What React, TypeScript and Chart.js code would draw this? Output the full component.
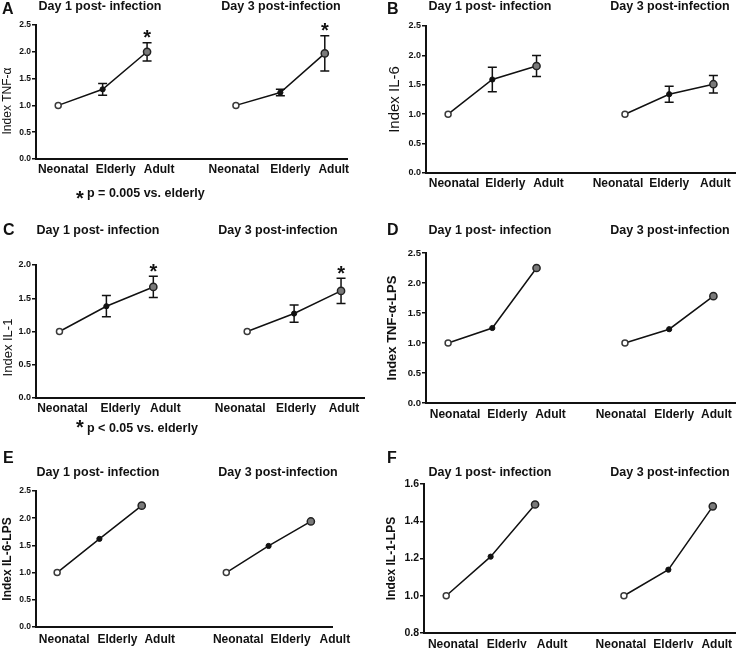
import React, { useEffect, useRef } from 'react';
import { Chart, registerables } from 'chart.js';

Chart.register(...registerables);

const FONT = "'Liberation Sans', Arial, Helvetica, sans-serif";
const INK = '#111111';

// ---- shared categories / labels ----
const CATEGORIES = ['Neonatal', 'Elderly', 'Adult', '', 'Neonatal', 'Elderly', 'Adult'];
const DAY_TITLES = ['Day 1 post- infection', 'Day 3 post-infection'];

// ---- A: TNF-α ----
const tnfDay1 = [1.0, 1.3, 2.0];
const tnfDay1Err = [0, 0.11, 0.17];
const tnfDay3 = [1.0, 1.24, 1.97];
const tnfDay3Err = [0, 0.06, 0.33];
const tnfStars = [false, false, true];

// ---- B: IL-6 ----
const il6Day1 = [1.0, 1.59, 1.82];
const il6Day1Err = [0, 0.21, 0.18];
const il6Day3 = [1.0, 1.34, 1.51];
const il6Day3Err = [0, 0.135, 0.15];
const il6Stars = [false, false, false];

// ---- C: IL-1 ----
const il1Day1 = [1.0, 1.38, 1.67];
const il1Day1Err = [0, 0.16, 0.16];
const il1Day3 = [1.0, 1.27, 1.61];
const il1Day3Err = [0, 0.13, 0.19];
const il1Stars = [false, false, true];

// ---- D: TNF-α-LPS ----
const tnfLpsDay1 = [1.0, 1.25, 2.25];
const tnfLpsDay3 = [1.0, 1.23, 1.78];

// ---- E: IL-6-LPS ----
const il6LpsDay1 = [1.0, 1.62, 2.23];
const il6LpsDay3 = [1.0, 1.49, 1.94];

// ---- F: IL-1-LPS ----
const il1LpsDay1 = [1.0, 1.21, 1.49];
const il1LpsDay3 = [1.0, 1.14, 1.48];

const NO_ERR = [0, 0, 0];
const NO_STARS = [false, false, false];

// group styles (Neonatal, Elderly, Adult)
const PT_BG = ['#ffffff', '#111111', '#7a7a7a'];
const PT_BORDER = ['#3a3a3a', '#111111', '#222222'];
const PT_RADIUS = [3, 2.6, 3.6];
const PT_BW = [1.5, 1, 1.5];

type Box = { left: number; top: number; width: number; height: number };
type Area = { l: number; t: number; r: number; b: number };
type Spec = {
  letter: string;
  letterX: number;
  letterBase: number;
  box: Box;
  area: Area;
  yMin: number;
  yMax: number;
  yStep: number;
  tickSize: number;
  yTitle: string;
  yTitleFont: string;
  yTitleX: number;
  yTitleDy: number;
  titleBase: number;
  titleXs: number[];
  labelShift: number[];
  labelDy: number;
  day1: number[];
  day1Err: number[];
  day3: number[];
  day3Err: number[];
  stars: boolean[];
  foot?: { text: string; x: number; base: number; starX: number; starCenter: number };
};

const PANELS: Spec[] = [
  {
    letter: 'A', letterX: 2, letterBase: 14,
    box: { left: 0, top: 0, width: 370, height: 210 },
    area: { l: 36, t: 25, r: 347, b: 159 },
    yMin: 0, yMax: 2.5, yStep: 0.5, tickSize: 8.5,
    yTitle: 'Index TNF-α', yTitleFont: `12px ${FONT}`, yTitleX: 7.5, yTitleDy: 9,
    titleBase: 9.5, titleXs: [100, 281],
    labelShift: [5, 13, 12, 0, -2, 10, 9], labelDy: 14,
    day1: tnfDay1, day1Err: tnfDay1Err, day3: tnfDay3, day3Err: tnfDay3Err, stars: tnfStars,
    foot: { text: 'p = 0.005 vs. elderly', x: 87, base: 197, starX: 80, starCenter: 193.5 },
  },
  {
    letter: 'B', letterX: 387, letterBase: 14,
    box: { left: 380, top: 0, width: 361, height: 210 },
    area: { l: 426, t: 26, r: 740, b: 173 },
    yMin: 0, yMax: 2.5, yStep: 0.5, tickSize: 9,
    yTitle: 'Index IL-6', yTitleFont: `15px ${FONT}`, yTitleX: 395, yTitleDy: 0,
    titleBase: 9.5, titleXs: [490, 670],
    labelShift: [6, 13, 12, 0, -7, 0, 2], labelDy: 14,
    day1: il6Day1, day1Err: il6Day1Err, day3: il6Day3, day3Err: il6Day3Err, stars: il6Stars,
  },
  {
    letter: 'C', letterX: 3, letterBase: 235,
    box: { left: 0, top: 210, width: 370, height: 230 },
    area: { l: 36, t: 265, r: 366, b: 398 },
    yMin: 0, yMax: 2.0, yStep: 0.5, tickSize: 9,
    yTitle: 'Index IL-1', yTitleFont: `13px ${FONT}`, yTitleX: 8, yTitleDy: 16,
    titleBase: 234, titleXs: [98, 278],
    labelShift: [3, 14, 12, 0, -7, 2, 3], labelDy: 14,
    day1: il1Day1, day1Err: il1Day1Err, day3: il1Day3, day3Err: il1Day3Err, stars: il1Stars,
    foot: { text: 'p < 0.05 vs. elderly', x: 87, base: 432, starX: 80, starCenter: 422.5 },
  },
  {
    letter: 'D', letterX: 387, letterBase: 235,
    box: { left: 380, top: 210, width: 361, height: 230 },
    area: { l: 426, t: 253, r: 736, b: 403 },
    yMin: 0, yMax: 2.5, yStep: 0.5, tickSize: 9.5,
    yTitle: 'Index TNF-α-LPS', yTitleFont: `bold 13px ${FONT}`, yTitleX: 392, yTitleDy: 0,
    titleBase: 234, titleXs: [490, 670],
    labelShift: [7, 15, 14, 0, -4, 5, 3], labelDy: 15,
    day1: tnfLpsDay1, day1Err: NO_ERR, day3: tnfLpsDay3, day3Err: NO_ERR, stars: NO_STARS,
  },
  {
    letter: 'E', letterX: 3, letterBase: 463,
    box: { left: 0, top: 440, width: 370, height: 208 },
    area: { l: 36, t: 491, r: 332, b: 627 },
    yMin: 0, yMax: 2.5, yStep: 0.5, tickSize: 8.5,
    yTitle: 'Index IL-6-LPS', yTitleFont: `bold 12px ${FONT}`, yTitleX: 8, yTitleDy: 0,
    titleBase: 476, titleXs: [98, 278],
    labelShift: [7, 18, 18, 0, 12, 22, 24], labelDy: 16,
    day1: il6LpsDay1, day1Err: NO_ERR, day3: il6LpsDay3, day3Err: NO_ERR, stars: NO_STARS,
  },
  {
    letter: 'F', letterX: 387, letterBase: 463,
    box: { left: 380, top: 440, width: 361, height: 208 },
    area: { l: 424, t: 484, r: 735, b: 633 },
    yMin: 0.8, yMax: 1.6, yStep: 0.2, tickSize: 10.5,
    yTitle: 'Index IL-1-LPS', yTitleFont: `bold 12px ${FONT}`, yTitleX: 392, yTitleDy: 0,
    titleBase: 476, titleXs: [490, 670],
    labelShift: [7, 16, 17, 0, -3, 5, 4], labelDy: 15,
    day1: il1LpsDay1, day1Err: NO_ERR, day3: il1LpsDay3, day3Err: NO_ERR, stars: NO_STARS,
  },
];

const XH = 4;

function groupOf(i: number) {
  return i < 3 ? i : Math.max(0, i - 4);
}

function makeDataset(vals: number[], errs: number[], stars: boolean[], start: number) {
  const inRange = (i: number) => i >= start && i < start + 3;
  return {
    data: CATEGORIES.map((_, i) => (inRange(i) ? vals[i - start] : null)),
    errors: CATEGORIES.map((_, i) => (inRange(i) ? errs[i - start] : 0)),
    starFlags: CATEGORIES.map((_, i) => (inRange(i) ? stars[i - start] : false)),
    borderColor: INK,
    borderWidth: 1.5,
    spanGaps: false,
    fill: false,
    tension: 0,
    pointRadius: CATEGORIES.map((_, i) => PT_RADIUS[groupOf(i)]),
    pointBackgroundColor: CATEGORIES.map((_, i) => PT_BG[groupOf(i)]),
    pointBorderColor: CATEGORIES.map((_, i) => PT_BORDER[groupOf(i)]),
    pointBorderWidth: CATEGORIES.map((_, i) => PT_BW[groupOf(i)]),
  };
}

function Panel({ p }: { p: Spec }) {
  const ref = useRef<HTMLCanvasElement>(null);
  useEffect(() => {
    const canvas = ref.current;
    if (!canvas) return;
    const { box, area } = p;
    const ox = box.left;
    const oy = box.top;

    const deco = {
      id: 'deco' + p.letter,
      beforeDatasetsDraw(chart: any) {
        const ctx = chart.ctx;
        const xs = chart.scales.x;
        const ys = chart.scales.y;
        ctx.save();
        ctx.strokeStyle = INK;
        ctx.lineWidth = 1.5;
        chart.data.datasets.forEach((ds: any) => {
          ds.data.forEach((v: number | null, i: number) => {
            const e = ds.errors[i];
            if (v == null || !e) return;
            const px = xs.getPixelForValue(i);
            const yTop = ys.getPixelForValue(v + e);
            const yBot = ys.getPixelForValue(v - e);
            ctx.beginPath();
            ctx.moveTo(px, yTop);
            ctx.lineTo(px, yBot);
            ctx.moveTo(px - 4.5, yTop);
            ctx.lineTo(px + 4.5, yTop);
            ctx.moveTo(px - 4.5, yBot);
            ctx.lineTo(px + 4.5, yBot);
            ctx.stroke();
          });
        });
        ctx.restore();
      },
      afterDraw(chart: any) {
        const ctx = chart.ctx;
        const xs = chart.scales.x;
        const ys = chart.scales.y;
        ctx.save();
        ctx.fillStyle = INK;
        ctx.textBaseline = 'alphabetic';

        // category labels
        ctx.textAlign = 'center';
        ctx.font = `bold 12px ${FONT}`;
        CATEGORIES.forEach((lab, i) => {
          if (!lab) return;
          ctx.fillText(lab, xs.getPixelForValue(i) + p.labelShift[i], chart.chartArea.bottom + p.labelDy);
        });

        // panel letter
        ctx.textAlign = 'left';
        ctx.font = `bold 16px ${FONT}`;
        ctx.fillText(p.letter, p.letterX - ox, p.letterBase - oy);

        // day titles
        ctx.textAlign = 'center';
        ctx.font = `bold 12.5px ${FONT}`;
        ctx.fillText(DAY_TITLES[0], p.titleXs[0] - ox, p.titleBase - oy);
        ctx.fillText(DAY_TITLES[1], p.titleXs[1] - ox, p.titleBase - oy);

        // y title
        ctx.save();
        ctx.font = p.yTitleFont;
        ctx.textBaseline = 'middle';
        ctx.translate(p.yTitleX - ox, (chart.chartArea.top + chart.chartArea.bottom) / 2 + p.yTitleDy);
        ctx.rotate(-Math.PI / 2);
        ctx.fillText(p.yTitle, 0, 0);
        ctx.restore();

        // significance stars
        ctx.font = `bold 20px ${FONT}`;
        ctx.textAlign = 'center';
        chart.data.datasets.forEach((ds: any) => {
          ds.data.forEach((v: number | null, i: number) => {
            if (v == null || !ds.starFlags[i]) return;
            const px = xs.getPixelForValue(i);
            const top = ys.getPixelForValue(v + (ds.errors[i] || 0));
            ctx.fillText('*', px, top - 10 + 11.5);
          });
        });

        // footnote
        if (p.foot) {
          ctx.font = `bold 20px ${FONT}`;
          ctx.textAlign = 'center';
          ctx.fillText('*', p.foot.starX - ox, p.foot.starCenter + 11.5 - oy);
          ctx.font = `bold 12.5px ${FONT}`;
          ctx.textAlign = 'left';
          ctx.fillText(p.foot.text, p.foot.x - ox, p.foot.base - oy);
        }
        ctx.restore();
      },
    };

    const chart = new Chart(canvas, {
      type: 'line',
      data: {
        labels: CATEGORIES,
        datasets: [
          makeDataset(p.day1, p.day1Err, p.stars, 0) as any,
          makeDataset(p.day3, p.day3Err, p.stars, 4) as any,
        ],
      },
      options: {
        responsive: false,
        animation: false,
        devicePixelRatio: 1,
        layout: {
          padding: {
            left: 0,
            top: area.t - oy,
            right: ox + box.width - area.r,
            bottom: Math.max(0, oy + box.height - area.b - XH),
          },
        },
        plugins: {
          legend: { display: false },
          tooltip: { enabled: false },
          title: { display: false },
        },
        scales: {
          x: {
            type: 'category',
            offset: true,
            grid: { display: false, drawTicks: false },
            border: { display: true, color: INK, width: 2 },
            ticks: { display: false, autoSkip: false, maxRotation: 0, minRotation: 0 },
            afterFit: (s: any) => {
              s.height = XH;
            },
          },
          y: {
            type: 'linear',
            min: p.yMin,
            max: p.yMax,
            grid: {
              display: true,
              drawOnChartArea: false,
              drawTicks: true,
              tickLength: 4,
              color: INK,
              lineWidth: 1.5,
            },
            border: { display: true, color: INK, width: 2 },
            ticks: {
              stepSize: p.yStep,
              color: INK,
              font: { family: FONT, size: p.tickSize, weight: 'bold' },
              padding: 1,
              callback: (v: any) => Number(v).toFixed(1),
            },
            afterFit: (s: any) => {
              s.width = area.l - ox;
            },
          },
        },
      } as any,
      plugins: [deco],
    });
    return () => chart.destroy();
  }, [p]);

  return (
    <canvas
      ref={ref}
      width={p.box.width}
      height={p.box.height}
      style={{
        position: 'absolute',
        left: p.box.left,
        top: p.box.top,
        width: p.box.width,
        height: p.box.height,
      }}
    />
  );
}

export default function App() {
  return (
    <div
      style={{
        position: 'absolute',
        left: 0,
        top: 0,
        width: 741,
        height: 648,
        background: '#ffffff',
        overflow: 'hidden',
      }}
    >
      {PANELS.map((p) => (
        <Panel key={p.letter} p={p} />
      ))}
    </div>
  );
}
